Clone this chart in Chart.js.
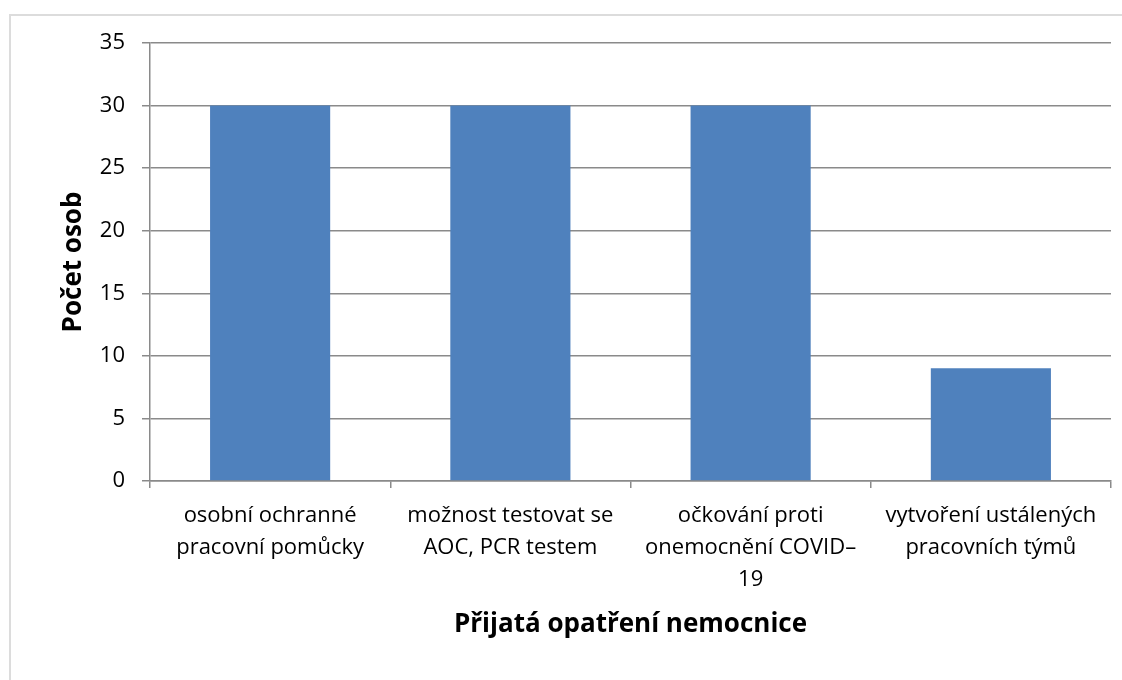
<!DOCTYPE html>
<html>
<head>
<meta charset="utf-8">
<script src="https://cdn.jsdelivr.net/npm/chart.js@4"></script>
<style>
  body { margin: 0; background: #fff; overflow: hidden; }
  #frame {
    position: absolute; left: 9px; top: 14px;
    width: 1130px; height: 700px;
    border: 2px solid #dcdcdc;
  }
  #myChart { position: absolute; left: 0; top: 0; }
</style>
</head>
<body>
<div id="frame"></div>
<canvas id="myChart" width="1122" height="680"></canvas>
<script>
const categories = [
  ["osobní ochranné", "pracovní pomůcky"],
  ["možnost testovat se", "AOC, PCR testem"],
  ["očkování proti", "onemocnění COVID–", "19"],
  ["vytvoření ustálených", "pracovních týmů"],
];
const values = [30, 30, 30, 9];
const yTicks = [0, 5, 10, 15, 20, 25, 30, 35];

const fontFamily = "'Open Sans', sans-serif";
const gridColor = "#8a8a8a";

const ctx = document.getElementById("myChart");

new Chart(ctx, {
  type: "bar",
  data: {
    labels: categories,
    datasets: [
      {
        label: "Počet osob",
        data: values,
        backgroundColor: "#4f81bd",
        borderWidth: 0,
        barPercentage: 0.5,
        categoryPercentage: 1,
      },
    ],
  },
  options: {
    responsive: false,
    animation: false,
    layout: { padding: { left: 10, right: 11, top: 43, bottom: 0 } },
    plugins: {
      legend: { display: false },
      tooltip: { enabled: false },
    },
    scales: {
      x: {
        offset: true,
        afterFit: (scale) => { scale.height = 680 - 481; },
        grid: {
          offset: true,
          drawOnChartArea: false,
          drawTicks: true,
          tickLength: 7,
          color: gridColor,
          lineWidth: 1.5,
        },
        border: { color: gridColor, width: 1.5 },
        ticks: {
          color: "#000",
          padding: 12,
          maxRotation: 0,
          autoSkip: false,
          font: { family: fontFamily, size: 22, lineHeight: 1.45 },
        },
        title: {
          display: true,
          text: "Přijatá opatření nemocnice",
          color: "#000",
          padding: { top: 0, bottom: 40 },
          font: { family: fontFamily, size: 26, weight: "bold", lineHeight: 1.2 },
        },
      },
      y: {
        min: 0,
        max: 35,
        afterFit: (scale) => { scale.width = 150 - 10; },
        afterBuildTicks: (scale) => {
          scale.ticks = yTicks.map((v) => ({ value: v }));
        },
        grid: {
          color: gridColor,
          lineWidth: 1.5,
          tickLength: 8,
        },
        border: { color: gridColor, width: 1.5 },
        ticks: {
          color: "#000",
          padding: 17,
          font: { family: fontFamily, size: 22 },
        },
        title: {
          display: true,
          text: "Počet osob",
          color: "#000",
          padding: { top: 48, bottom: 0 },
          font: { family: fontFamily, size: 26, weight: "bold", lineHeight: 1.2 },
        },
      },
    },
  },
});
</script>
</body>
</html>
